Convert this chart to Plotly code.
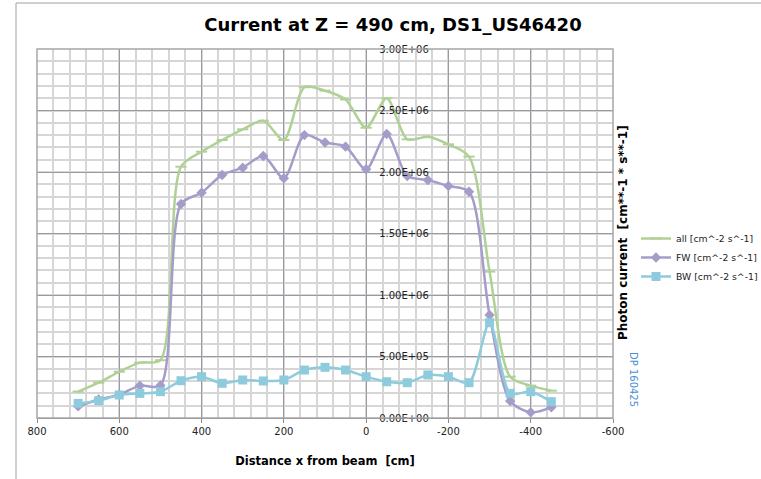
import plotly.graph_objects as go

# Distance from beam [cm]
x_cm = [700, 650, 600, 550, 500, 450, 400, 350, 300, 250, 200, 150,
        100, 50, 0, -50, -100, -150, -200, -250, -300, -350, -400, -450]

# Photon current [cm^-2 s^-1]
all_flux = [0.215e6, 0.287e6, 0.376e6, 0.450e6, 0.470e6, 2.043e6, 2.165e6, 2.260e6,
            2.347e6, 2.417e6, 2.260e6, 2.689e6, 2.661e6, 2.590e6, 2.360e6, 2.600e6,
            2.266e6, 2.287e6, 2.225e6, 2.125e6, 1.190e6, 0.336e6, 0.263e6, 0.222e6]
fw_flux = [0.095e6, 0.150e6, 0.190e6, 0.263e6, 0.265e6, 1.740e6, 1.832e6, 1.976e6,
           2.035e6, 2.130e6, 1.949e6, 2.300e6, 2.240e6, 2.206e6, 2.022e6, 2.309e6,
           1.967e6, 1.935e6, 1.886e6, 1.840e6, 0.837e6, 0.138e6, 0.046e6, 0.087e6]
bw_flux = [0.119e6, 0.141e6, 0.187e6, 0.200e6, 0.214e6, 0.303e6, 0.336e6, 0.282e6,
           0.309e6, 0.301e6, 0.309e6, 0.390e6, 0.412e6, 0.390e6, 0.336e6, 0.295e6,
           0.287e6, 0.350e6, 0.336e6, 0.287e6, 0.775e6, 0.200e6, 0.214e6, 0.133e6]

series_names = ["all [cm^-2 s^-1]", "FW [cm^-2 s^-1]", "BW [cm^-2 s^-1]"]
y_ticks = [0, 5e5, 1e6, 1.5e6, 2e6, 2.5e6, 3e6]
x_ticks = [800, 600, 400, 200, 0, -200, -400, -600]

GREEN = "#b0d196"
PURPLE = "#a69cca"
CYAN = "#8ecbdc"
MINOR = "#d6d6d6"
MAJOR = "#9a9aa4"
FONT = "DejaVu Sans"

# plot area in pixels
L, R, T, B = 37, 613, 49, 418
W, H = R - L, B - T

fig = go.Figure()
fig.add_trace(go.Scatter(
    x=x_cm, y=all_flux, name=series_names[0], mode="lines+markers",
    line=dict(color=GREEN, width=2.5, shape="spline", smoothing=0.8),
    marker=dict(symbol="line-ew", size=8, line=dict(color=GREEN, width=2))))
fig.add_trace(go.Scatter(
    x=x_cm, y=fw_flux, name=series_names[1], mode="lines+markers",
    line=dict(color=PURPLE, width=2.5, shape="spline", smoothing=0.8),
    marker=dict(symbol="diamond", size=8, color=PURPLE)))
fig.add_trace(go.Scatter(
    x=x_cm, y=bw_flux, name=series_names[2], mode="lines+markers",
    line=dict(color=CYAN, width=2.5, shape="spline", smoothing=0.8),
    marker=dict(symbol="square", size=9, color=CYAN)))

# position of x = 0 along the plot width, where the value axis crosses
x0_frac = (800 - 0) / (800 - (-600))

fig.update_layout(
    width=761, height=479,
    margin=dict(l=L, r=761 - R, t=T, b=479 - B, autoexpand=False),
    paper_bgcolor="white", plot_bgcolor="white",
    font=dict(family=FONT, size=10, color="#222222"),
    title=dict(text="<b>Current at Z = 490 cm, DS1_US46420</b>",
               font=dict(family=FONT, size=18, color="black"),
               x=(393 - L) / W, xanchor="center", xref="paper",
               y=1 - 25 / 479, yanchor="middle"),
    xaxis=dict(
        range=[800, -600], tickvals=x_ticks, ticktext=[str(v) for v in x_ticks],
        showgrid=True, gridcolor=MAJOR, gridwidth=1.2,
        minor=dict(dtick=40, tick0=0, showgrid=True, gridcolor=MINOR, gridwidth=2),
        showline=True, linecolor="#8c8c8c", linewidth=1,
        ticks="outside", ticklen=4, tickcolor="#8c8c8c",
        zeroline=False, tickfont=dict(size=10, color="#222222"),
        title=dict(text="<b>Distance x from beam  [cm]</b>",
                   font=dict(family=FONT, size=11.5, color="black"), standoff=20),
    ),
    yaxis=dict(
        range=[0, 3e6], tickvals=y_ticks, ticktext=[f"{v:.2E}" for v in y_ticks],
        showgrid=True, gridcolor=MAJOR, gridwidth=1.2,
        minor=dict(dtick=1e5, showgrid=True, gridcolor=MINOR, gridwidth=2),
        anchor="free", position=x0_frac, side="right",
        showline=False, ticks="", zeroline=False, ticklabelstandoff=12,
        tickfont=dict(size=10, color="#222222"),
    ),
    legend=dict(x=(636 - L) / W, y=(B - 224) / H, xanchor="left", yanchor="top",
                font=dict(size=9.3, color="#222222"), bgcolor="rgba(0,0,0,0)",
                tracegroupgap=0, itemwidth=30),
    showlegend=True,
)

# plot-area frame
fig.add_shape(type="rect", xref="paper", yref="paper", x0=0, x1=1, y0=0, y1=1,
              line=dict(color="#a6a6a6", width=1.5), layer="above")
# outer chart frame
fig.add_shape(type="rect", xref="paper", yref="paper",
              x0=(16 - L) / W, x1=1.5, y0=-0.5, y1=(B - 3) / H,
              line=dict(color="#a0a0a0", width=1))

# value-axis title on the right side
fig.add_annotation(text="<b>Photon current  [cm**-1 * s**-1]</b>",
                   xref="paper", yref="paper", x=(623 - L) / W, y=(B - 233) / H,
                   xanchor="center", yanchor="middle",
                   textangle=-90, showarrow=False,
                   font=dict(family=FONT, size=12, color="black"))
fig.add_annotation(text="DP 160425",
                   xref="paper", yref="paper", x=(634 - L) / W, y=(B - 379) / H,
                   xanchor="center", yanchor="middle",
                   textangle=90, showarrow=False,
                   font=dict(family=FONT, size=10, color="#4a8fd6"))

fig.write_html("out.html")
